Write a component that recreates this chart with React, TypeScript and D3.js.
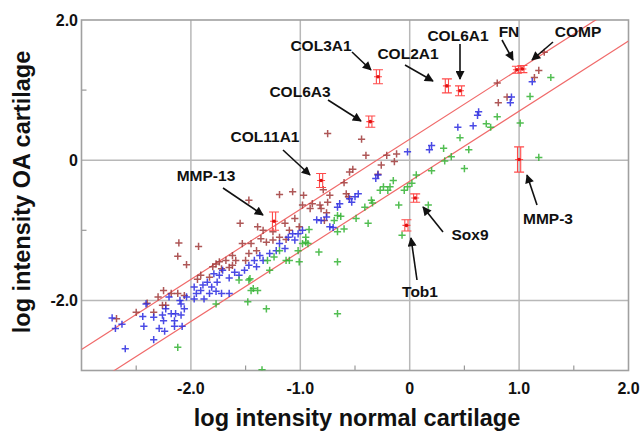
import React from 'react';
import * as d3 from 'd3';

// ---------- data ----------
const xTicks = [-2, -1, 0, 1, 2];
const xTickLabels = ['-2.0', '-1.0', '0', '1.0', '2.0'];
const yTicks = [-2, 0, 2];
const yTickLabels = ['-2.0', '0', '2.0'];
const xMinorTicks = [-2.5, -1.5, -0.5, 0.5, 1.5];
const yMinorTicks = [-1, 1];
const foldOffsets = [0.3, -0.3];

const darkRedPts: [number, number][] = [
  [-2.12, -1.37], [-2.04, -1.49], [-1.8, -1.52], [-1.77, -1.48], [-1.74, -1.45], [-1.91, -1.64],
  [-1.94, -1.7], [-1.83, -1.67], [-2.25, -1.86], [-2.18, -1.9], [-2.3, -1.95], [-2.12, -1.9],
  [-2.06, -1.93], [-2.26, -2.07], [-2.34, -2.17], [-2.4, -2.04], [-2.5, -2.17], [-2.68, -2.26],
  [-2.23, -2.07],
  [-1.19, -0.49], [-1.07, -0.45], [-1.47, -0.57], [-1.55, -0.9], [-1.39, -0.95], [-1.14, -0.9],
  [-1.05, -0.83], [-1.25, -1.02], [-1.93, -1.23], [-2.11, -1.18], [-1.53, -1.19], [-1.45, -1.19],
  [-1.4, -1.29], [-1.36, -1.12], [-1.31, -1.17], [-1.25, -1.14], [-1.19, -1.1], [-1.13, -1.13],
  [-1.1, -1.0], [-1.47, -1.33], [-1.5, -1.43], [-1.59, -1.43], [-1.62, -1.5], [-1.65, -1.53],
  [-1.72, -1.55], [-1.68, -1.43], [-1.62, -1.36], [-1.34, -1.0], [-0.98, -0.64], [-1.01, -0.95],
  [-0.4, 0.07], [-0.21, 0.07], [-0.12, 0.09], [-0.26, -0.07], [-0.14, -0.02], [-0.55, -0.17],
  [-0.52, -0.13], [-0.6, -0.32], [-0.79, -0.42], [-0.97, -0.5], [-0.73, -0.5], [-0.58, -0.48],
  [-0.56, -0.52], [-0.75, -0.6], [-0.91, -0.69], [-0.81, -0.69], [-0.76, -0.75], [-0.78, -0.86],
  [-0.89, -0.62], [-0.82, -0.64], [-0.29, -0.2], [-0.75, 0.38], [-0.44, 0.3],
  [0.8, 1.1], [0.81, 0.82], [0.89, 0.9], [1.14, 1.18], [1.18, 1.28], [1.23, 1.54],
];

const bluePts: [number, number][] = [
  [-2.72, -2.25], [-2.69, -2.4], [-2.63, -2.34], [-2.6, -2.69], [-2.44, -2.23], [-2.41, -2.05],
  [-2.43, -2.37], [-2.34, -2.56], [-2.29, -2.4], [-2.24, -2.44], [-2.25, -2.29], [-2.15, -2.29],
  [-2.14, -2.19], [-2.15, -2.37], [-2.08, -2.37], [-2.23, -2.12], [-2.18, -2.19], [-2.1, -2.0],
  [-2.09, -2.05], [-2.04, -1.95], [-1.97, -1.98], [-1.95, -1.9], [-1.88, -1.98], [-1.97, -1.81],
  [-1.91, -1.86], [-1.83, -1.9], [-1.81, -1.81], [-1.77, -1.87], [-1.85, -1.74], [-1.89, -1.78],
  [-1.76, -1.74], [-1.72, -1.9], [-1.74, -1.64], [-1.79, -1.62], [-1.71, -1.57], [-2.2, -1.95],
  [-2.26, -2.21], [-2.34, -2.24], [-2.06, -2.12], [-2.09, -2.21],
  [-1.07, -1.05], [-1.11, -1.1], [-1.19, -1.19], [-1.14, -1.26], [-1.22, -1.29], [-1.28, -1.33],
  [-1.37, -1.36], [-1.34, -1.43], [-1.42, -1.43], [-1.47, -1.5], [-1.4, -1.52], [-1.51, -1.57],
  [-1.56, -1.64], [-1.6, -1.6], [-1.65, -1.68], [-1.65, -1.9], [-1.02, -1.05], [-0.98, -1.0],
  [-1.05, -1.14],
  [-0.02, 0.12], [-0.29, -0.21], [-0.31, -0.26], [-0.47, -0.48], [-0.5, -0.52], [-0.53, -0.6],
  [-0.55, -0.55], [-0.64, -0.62], [-0.66, -0.67], [-0.76, -0.81], [-0.81, -0.86], [-0.85, -0.85],
  [-0.73, -0.95], [-0.7, -0.96],
  [1.12, 1.12], [0.93, 0.9], [0.92, 0.82], [0.63, 0.69], [0.62, 0.64], [0.58, 0.49], [0.44, 0.47],
  [0.2, 0.21], [0.18, 0.15],
];

const greenPts: [number, number][] = [
  [-2.12, -2.67], [-1.77, -2.05],
  [-0.95, -1.1], [-0.98, -1.19], [-1.02, -1.29], [-1.19, -1.29], [-1.3, -1.43], [-1.24, -1.38],
  [-1.1, -1.43], [-1.47, -1.71], [-1.56, -1.71], [-1.45, -1.86], [-1.39, -1.86], [-1.28, -1.57],
  [-0.93, -1.19], [-1.01, -1.45],
  [-1.48, -2.02], [-1.31, -2.12], [-1.35, -2.99], [-0.66, -2.19], [-0.66, -1.45], [-0.83, -1.31],
  [-1.13, -1.43], [-1.43, -1.83], [-1.46, -1.69], [-0.07, -1.07], [0.17, -0.64], [-0.1, -0.64],
  [-0.38, -0.9],
  [-0.27, -0.43], [-0.24, -0.38], [-0.18, -0.38], [-0.15, -0.29], [-0.34, -0.61], [-0.35, -0.57],
  [-0.41, -0.67], [-0.49, -0.83], [-0.63, -0.8], [-0.66, -0.79], [-0.69, -0.86], [-0.6, -0.98],
  [-0.66, -1.02], [-0.92, -0.99], [-0.95, -1.17], [0.06, -0.21], [-0.02, -0.38], [-0.05, -0.43],
  [-0.2, -0.43],
  [1.1, 0.91], [1.29, 1.18], [1.01, 0.53], [0.8, 0.62], [0.74, 0.47], [0.7, 0.52], [0.46, 0.32],
  [0.54, 0.15], [0.31, 0.17], [0.38, 0.05], [0.32, -0.01], [0.2, -0.15], [0.5, -0.12], [1.18, 0.04],
  [0.02, -0.33],
];

const geneNames = ['COL3A1', 'COL6A3', 'COL11A1', 'MMP-13', 'COL2A1', 'COL6A1', 'FN', 'COMP', 'MMP-3', 'Sox9', 'Tob1'];
const geneX = [-0.29, -0.36, -0.81, -1.24, 0.34, 0.46, 0.98, 1.03, 1.0, 0.05, -0.03];
const geneY = [1.19, 0.55, -0.29, -0.87, 1.06, 0.99, 1.29, 1.3, 0.01, -0.54, -0.93];
const geneErr = [0.1, 0.08, 0.1, 0.13, 0.1, 0.07, 0.05, 0.05, 0.18, 0.06, 0.08];

// annotation layout in pixels: label centre, arrow tail, arrow head
const annoLayout: Record<string, number[]> = {
  COL3A1: [321, 45, 352, 52, 371, 70],
  COL6A3: [300, 91, 328, 100, 361, 121],
  COL11A1: [265, 136, 283, 150, 310, 175],
  'MMP-13': [206, 175, 223, 188, 263, 215],
  COL2A1: [408, 53, 405, 65, 433, 81],
  COL6A1: [458, 35, 460, 44, 460, 79],
  FN: [509, 31, 502, 40, 513, 60],
  COMP: [578, 31, 553, 42, 532, 60],
  'MMP-3': [548, 218, 537, 205, 527, 175],
  Sox9: [470, 234, 443, 232, 423, 207],
  Tob1: [420, 291, 417, 280, 411, 238],
};

const FONT = '"Liberation Sans", Arial, Helvetica, sans-serif';

export default function App() {
  const W = 642, H = 433;
  const x = d3.scaleLinear().domain([-3, 2]).range([81.5, 628.5]);
  const y = d3.scaleLinear().domain([-3, 2]).range([370.5, 20]);
  const [x0, x1] = x.range();
  const [y0, y1] = y.range();

  const line = d3.line<[number, number]>().x(d => x(d[0])).y(d => y(d[1]));
  const plus = (s: number) => `M${-s},0H${s}M0,${-s}V${s}`;

  const drawPts = (pts: [number, number][], color: string, key: string) =>
    pts.map((p, i) => (
      <path key={key + i} d={plus(3.6)} transform={`translate(${x(p[0])},${y(p[1])})`}
        stroke={color} strokeWidth={1.5} fill="none" opacity={0.85} />
    ));

  return (
    <svg width={W} height={H} style={{ position: 'absolute', left: 0, top: 0, background: '#fff' }}
      fontFamily={FONT}>
      <defs>
        <clipPath id="plotClip">
          <rect x={x0} y={y1} width={x1 - x0} height={y0 - y1} />
        </clipPath>
        <marker id="arrowHead" viewBox="0 0 10 10" refX={9} refY={5} markerWidth={11} markerHeight={9}
          markerUnits="userSpaceOnUse" orient="auto">
          <path d="M0,0L10,5L0,10z" fill="#111" />
        </marker>
      </defs>

      {/* gridlines */}
      {xTicks.filter(t => t > -3 && t < 2).map(t => (
        <line key={'gx' + t} x1={x(t)} x2={x(t)} y1={y1} y2={y0} stroke="#b8b8b8" strokeWidth={1.5} />
      ))}
      {yTicks.filter(t => t > -3 && t < 2).map(t => (
        <line key={'gy' + t} x1={x0} x2={x1} y1={y(t)} y2={y(t)} stroke="#b8b8b8" strokeWidth={1.5} />
      ))}

      {/* minor ticks */}
      {xMinorTicks.map(t => (
        <line key={'mx' + t} x1={x(t)} x2={x(t)} y1={y0} y2={y0 - 5} stroke="#999" strokeWidth={1.2} />
      ))}
      {yMinorTicks.map(t => (
        <line key={'my' + t} x1={x0} x2={x0 + 5} y1={y(t)} y2={y(t)} stroke="#999" strokeWidth={1.2} />
      ))}

      {/* frame */}
      <rect x={x0} y={y1} width={x1 - x0} height={y0 - y1} fill="none" stroke="#a0a0a0" strokeWidth={1.6} />

      {/* 2-fold lines */}
      <g clipPath="url(#plotClip)">
        {foldOffsets.map(o => (
          <path key={'f' + o} d={line([[-3, -3 + o], [2, 2 + o]]) || ''} stroke="#f06a6a" strokeWidth={1.2} fill="none" />
        ))}
        {drawPts(darkRedPts, '#a03a3a', 'r')}
        {drawPts(bluePts, '#2a2ae0', 'b')}
        {drawPts(greenPts, '#34b334', 'g')}
        {/* highlighted genes with error bars */}
        {geneNames.map((g, i) => {
          const cx = x(geneX[i]), cy = y(geneY[i]);
          const top = y(geneY[i] + geneErr[i]), bot = y(geneY[i] - geneErr[i]);
          return (
            <g key={'e' + g} stroke="#ff4a4a" strokeWidth={1.1} fill="none">
              <line x1={cx - 1.6} x2={cx - 1.6} y1={top} y2={bot} />
              <line x1={cx + 1.6} x2={cx + 1.6} y1={top} y2={bot} />
              <line x1={cx - 5} x2={cx + 5} y1={top} y2={top} />
              <line x1={cx - 5} x2={cx + 5} y1={bot} y2={bot} />
              <line x1={cx - 4} x2={cx + 4} y1={cy} y2={cy} />
              <circle cx={cx} cy={cy} r={1.8} fill="#e01010" stroke="none" />
            </g>
          );
        })}
      </g>

      {/* annotations */}
      {geneNames.map(g => {
        const a = annoLayout[g];
        return (
          <g key={'a' + g}>
            <line x1={a[2]} y1={a[3]} x2={a[4]} y2={a[5]} stroke="#111" strokeWidth={1.6} markerEnd="url(#arrowHead)" />
            <text x={a[0]} y={a[1]} dy="0.36em" textAnchor="middle" fontSize={15.5} fontWeight="bold" fill="#111">{g}</text>
          </g>
        );
      })}

      {/* tick labels */}
      {xTicks.map((t, i) => (
        <text key={'xl' + t} x={x(t)} y={388} dy="0.36em" textAnchor="middle" fontSize={16} fontWeight="bold" fill="#111">
          {xTickLabels[i]}
        </text>
      ))}
      {yTicks.map((t, i) => (
        <text key={'yl' + t} x={78} y={y(t)} dy="0.36em" textAnchor="end" fontSize={16} fontWeight="bold" fill="#111">
          {yTickLabels[i]}
        </text>
      ))}

      {/* axis titles */}
      <text x={357} y={418} dy="0.36em" textAnchor="middle" fontSize={23.5} fontWeight="bold" fill="#111">
        log intensity normal cartilage
      </text>
      <text transform={`translate(22,192) rotate(-90)`} dy="0.36em" textAnchor="middle" fontSize={23.5} fontWeight="bold" fill="#111">
        log intensity OA cartilage
      </text>
    </svg>
  );
}
